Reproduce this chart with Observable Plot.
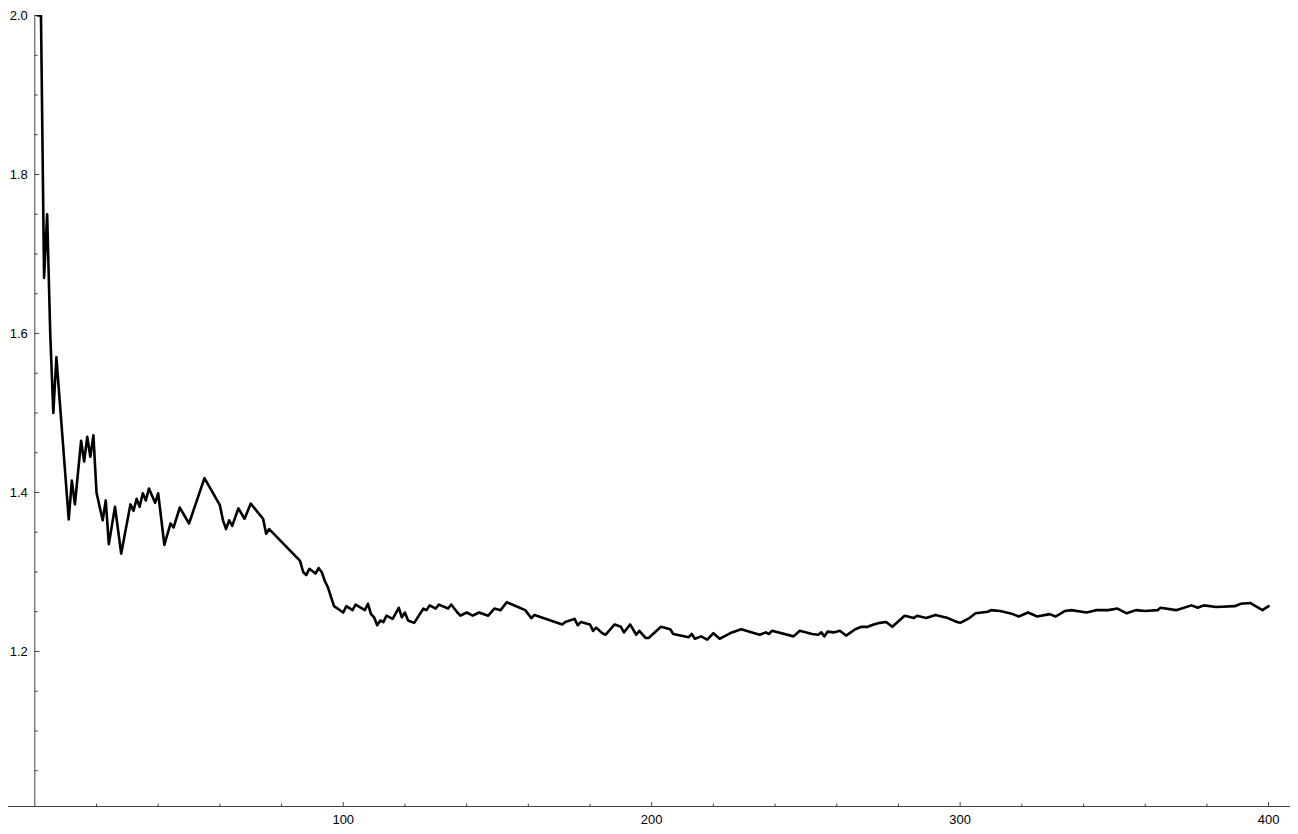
<!DOCTYPE html>
<html>
<head>
<meta charset="utf-8">
<script src="https://cdn.jsdelivr.net/npm/d3@7"></script>
<script src="https://cdn.jsdelivr.net/npm/@observablehq/plot@0.6"></script>
<style>
  html, body { margin: 0; padding: 0; background: #fff; }
  #chart svg { display: block; }
</style>
</head>
<body>
<div id="chart"></div>
<script>
// Vertices of the plotted series (index, value)
const steps = [1,2,3,4,5,6,7,11,12,13,15,16,17,18,19,20,22,23,24,26,28,31,32,33,34,35,36,37,39,40,
  42,44,45,47,50,55,60,61,62,63,64,66,68,70,74,75,76,86,87,88,89,91,92,93,94,95,97,100,101,103,
  104,107,108,109,110,111,112,113,114,116,118,119,120,121,123,126,127,128,130,131,134,135,137,138,140,142,144,147,149,151,
  153,159,161,162,171,172,175,176,177,180,181,182,184,185,188,190,191,193,195,196,198,199,203,206,207,212,213,214,216,218,
  220,222,224,226,229,235,237,238,239,246,248,252,254,255,256,257,259,261,263,266,268,270,272,274,276,278,282,285,286,289,
  292,296,299,300,303,305,309,310,313,317,319,322,325,329,331,334,336,341,344,348,351,354,357,360,364,365,370,375,377,379,
  383,389,391,394,398,400];
const values = [2.0,2.0,1.67,1.75,1.60,1.50,1.57,1.366,1.415,1.385,1.465,1.439,1.470,1.445,1.472,1.400,1.365,1.390,1.335,1.382,1.323,1.385,1.377,1.392,1.382,1.399,1.390,1.405,1.387,1.399,
  1.334,1.361,1.356,1.381,1.361,1.418,1.384,1.365,1.354,1.365,1.358,1.380,1.367,1.386,1.367,1.348,1.354,1.314,1.300,1.296,1.304,1.298,1.305,1.300,1.289,1.281,1.257,1.249,1.257,1.252,
  1.259,1.252,1.260,1.247,1.243,1.233,1.239,1.237,1.245,1.241,1.255,1.243,1.249,1.239,1.236,1.254,1.252,1.258,1.254,1.259,1.254,1.259,1.249,1.245,1.249,1.245,1.249,1.245,1.254,1.252,
  1.262,1.252,1.242,1.246,1.234,1.237,1.241,1.233,1.237,1.234,1.226,1.230,1.223,1.221,1.234,1.231,1.224,1.234,1.221,1.226,1.217,1.217,1.231,1.228,1.222,1.218,1.222,1.216,1.219,1.215,
  1.223,1.216,1.220,1.224,1.228,1.221,1.224,1.222,1.226,1.219,1.226,1.222,1.221,1.224,1.219,1.225,1.224,1.226,1.220,1.228,1.231,1.231,1.234,1.236,1.237,1.231,1.245,1.242,1.245,1.242,
  1.246,1.242,1.237,1.236,1.242,1.248,1.250,1.252,1.251,1.247,1.244,1.249,1.244,1.247,1.244,1.251,1.252,1.249,1.252,1.252,1.254,1.248,1.252,1.251,1.252,1.255,1.252,1.258,1.255,1.258,
  1.256,1.257,1.260,1.261,1.252,1.257];

// Axis ticks and labels
const xMajorTicks = [100, 200, 300, 400];
const xMinorTicks = [20,40,60,80,120,140,160,180,220,240,260,280,320,340,360,380];
const yMajorTicks = [1.2, 1.4, 1.6, 1.8, 2.0];
const yMinorTicks = [1.05,1.1,1.15,1.25,1.3,1.35,1.45,1.5,1.55,1.65,1.7,1.75,1.85,1.9,1.95];
const yLabels = ["1.2", "1.4", "1.6", "1.8", "2.0"];
const xLabels = ["100", "200", "300", "400"];

const xDomain = [-8.53, 407.1];
const yDomain = [1.005, 2.0];
const yOrigin = yDomain[0];

const tickShape = {draw(context, l) { context.moveTo(0, 0); context.lineTo(0, -l); }};
const axisColor = "#444";
const font = "'Liberation Sans', Arial, Helvetica, sans-serif";

const chart = Plot.plot({
  width: 1298,
  height: 834,
  marginLeft: 8,
  marginRight: 8,
  marginTop: 15,
  marginBottom: 28,
  style: {fontFamily: font, fontSize: "13px", background: "#fff", color: "#000"},
  x: {domain: xDomain, axis: null},
  y: {domain: yDomain, axis: null},
  marks: [
    Plot.ruleY([yOrigin], {stroke: axisColor, strokeWidth: 1}),
    Plot.ruleX([0], {y1: yOrigin, y2: yDomain[1], stroke: axisColor, strokeWidth: 1}),
    Plot.vector(xMajorTicks, {x: d => d, y: yOrigin, length: 4, rotate: 0, anchor: "start", shape: tickShape, stroke: axisColor, strokeWidth: 1}),
    Plot.vector(xMinorTicks, {x: d => d, y: yOrigin, length: 2.5, rotate: 0, anchor: "start", shape: tickShape, stroke: axisColor, strokeWidth: 1}),
    Plot.vector(yMajorTicks, {x: 0, y: d => d, length: 4, rotate: 90, anchor: "start", shape: tickShape, stroke: axisColor, strokeWidth: 1}),
    Plot.vector(yMinorTicks, {x: 0, y: d => d, length: 2.5, rotate: 90, anchor: "start", shape: tickShape, stroke: axisColor, strokeWidth: 1}),
    Plot.text(xMajorTicks, {x: d => d, y: yOrigin, text: (d, i) => xLabels[i], dy: 13, fill: "#000", fontSize: 13}),
    Plot.text(yMajorTicks, {x: 0, y: d => d, text: (d, i) => yLabels[i], dx: -7, textAnchor: "end", fill: "#000", fontSize: 13}),
    Plot.line(values, {x: steps, y: d => d, stroke: "#000", strokeWidth: 2.6, clip: true})
  ]
});
document.getElementById("chart").appendChild(chart);
</script>
</body>
</html>
